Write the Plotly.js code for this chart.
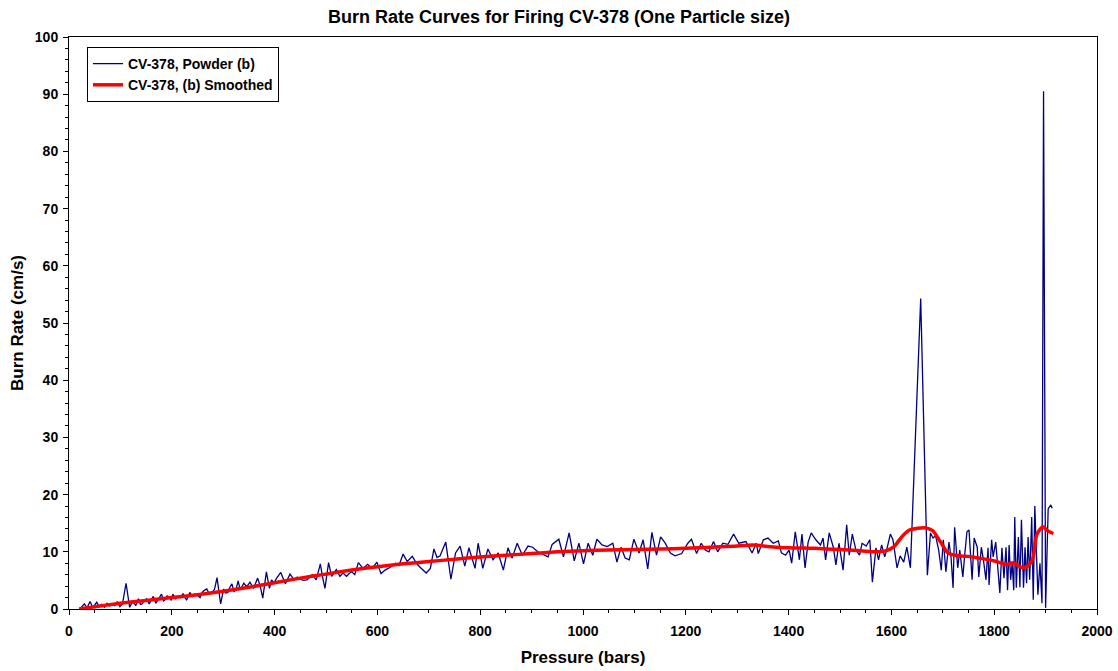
<!DOCTYPE html>
<html>
<head>
<meta charset="utf-8">
<script src="https://cdn.plot.ly/plotly-3.0.1.min.js"></script>
<style>html,body{margin:0;padding:0;background:#fff;}#chart{width:1118px;height:671px;}</style>
</head>
<body>
<div id="chart"></div>
<script>
// Raw powder burn-rate data (pressure in bars, burn rate in cm/s)
const pressurePowder = [
  20,25,30,35,41,46,50,54,58,64,
  69,74,79,84,89,94,99,104,111,118,
  122,125,130,135,139,142,147,151,156,160,
  164,169,174,180,184,187,191,195,199,202,
  207,212,217,222,226,229,235,240,245,250,
  255,259,264,268,273,278,283,288,295,301,
  305,309,313,317,321,325,329,333,336,340,
  346,352,359,367,372,377,384,390,394,399,
  404,412,421,430,438,444,450,456,463,468,
  473,481,489,493,498,505,511,520,527,533,
  540,545,550,556,563,572,581,590,599,607,
  615,625,635,642,650,658,668,676,
  683,695,703,710,716,722,733,743,752,761,
  770,778,790,796,805,815,825,835,845,854,
  862,872,882,893,902,912,922,932,940,953,
  962,973,983,992,1001,1010,1019,1027,1037,1047,
  1058,1066,1074,1082,1090,1099,1109,1117,1126,1134,
  1143,1151,1160,1170,1179,1192,1204,1211,1221,1230,
  1238,1245,1254,1262,1272,1282,1293,1303,1317,1329,
  1337,1341,1351,1360,1370,1380,1386,1394,1401,1406,
  1413,1421,1426,1432,1438,1444,1453,1462,1467,1472,
  1479,1487,1492,1498,1506,1513,1518,1524,1531,1538,
  1543,1551,1558,1563,1570,1575,1581,1587,1592,1598,
  1603,1611,1617,1624,1630,1637,1657,1670,1676,1681,
  1686,1692,1697,1701,1706,1712,1716,1720,1723,1729,
  1733,1739,1743,1747,1751,1757,1761,1767,1770,1775,
  1779,1784,1788,1790,1795,1798,1803,1808,1811,1815,
  1819,1823,1826,1829,1832,1835,1838,1840,1843,1847,
  1850,1853,1857,1860,1863,1866,1869,1873,1876,1879,
  1885,1889,1893,1896,1900,1905,1910,1913
];
const ratePowder = [
  0.1,0.4,0.9,0.2,1.3,0.3,0.7,1.2,0.5,0.8,
  0.3,1.0,0.5,0.9,0.6,1.3,0.4,0.9,4.5,0.3,
  1.0,1.2,0.6,1.8,0.8,0.9,1.5,1.8,0.9,1.6,
  2.2,1.0,1.8,2.6,1.4,1.6,2.3,2.1,1.5,2.6,
  1.8,2.2,2.0,2.7,1.9,1.6,2.9,2.2,2.6,2.4,
  2.0,2.9,3.3,3.5,2.6,2.9,3.4,5.5,0.9,3.5,
  2.8,2.9,3.8,4.4,3.0,3.4,4.9,3.4,3.8,4.5,
  3.9,4.7,3.6,5.4,4.0,1.9,6.5,3.6,5.1,4.6,
  5.4,6.4,4.4,6.1,5.1,5.6,5.2,5.0,5.1,5.6,
  6.0,5.1,7.9,5.7,3.6,8.1,5.7,6.9,5.7,6.3,
  5.7,6.2,6.5,6.0,8.1,7.1,7.8,7.1,8.2,6.2,
  6.8,7.3,8.0,7.6,9.6,8.3,9.2,8.0,
  7.3,6.3,7.1,10.5,9.0,9.3,11.7,5.2,9.8,11.0,
  7.5,10.7,7.1,11.5,7.1,10.5,8.6,9.8,6.8,10.7,
  8.9,11.5,9.4,11.0,10.8,10.0,9.6,9.1,11.3,12.2,
  9.1,13.3,8.4,11.5,7.9,11.5,9.4,12.2,11.2,10.9,
  11.5,8.2,10.8,8.9,8.6,12.2,9.8,12.1,7.0,13.4,
  9.4,12.6,11.5,9.8,9.3,9.7,11.5,12.2,9.7,11.5,
  10.3,10.0,11.8,10.0,11.5,11.3,13.1,11.5,11.8,9.8,
  11.5,9.7,12.1,12.4,11.5,11.9,9.8,9.4,10.3,8.0,
  13.5,8.6,13.1,7.2,11.7,13.3,12.1,11.2,12.4,8.6,
  13.3,10.8,7.7,11.5,6.8,14.7,9.4,13.1,10.3,9.4,
  11.5,11.0,12.1,4.7,10.7,8.6,11.2,9.1,10.8,13.1,
  12.1,7.2,9.3,8.2,10.8,7.2,54.3,5.9,13.3,12.4,
  12.8,10.3,6.8,12.1,6.5,11.7,9.1,3.7,14.3,7.2,
  10.3,5.6,9.8,13.5,13.8,5.1,12.4,10.8,5.6,10.8,
  8.6,5.1,10.7,4.2,12.1,9.1,11.7,6.8,2.8,10.7,
  5.4,10.8,3.3,11.2,5.1,8.0,3.3,16.1,3.7,12.6,
  3.8,15.6,3.7,10.8,4.5,12.6,5.1,16.1,1.6,18.0,
  2.5,8.0,1.0,90.5,0.2,17.5,18.2,17.6
];

// Smoothed curve
const pressureSmooth = [20,50,100,150,200,250,300,350,400,450,500,550,600,650,700,750,800,850,900,950,1000,1050,1100,1150,1200,1250,1300,1330,1364,1400,1450,1500,1540,1569,1590,1605,1620,1635,1650,1665,1680,1695,1710,1730,1750,1770,1800,1825,1837,1853,1865,1875,1883,1895,1902,1915];
const rateSmooth     = [0.0,0.4,1.0,1.5,2.0,2.5,3.1,3.8,4.6,5.4,6.1,6.8,7.4,7.9,8.3,8.7,9.1,9.4,9.7,10.0,10.2,10.3,10.4,10.5,10.6,10.8,11.0,11.2,10.9,10.7,10.6,10.4,10.2,10.0,10.2,10.9,12.6,13.8,14.1,14.2,13.7,11.8,9.8,9.3,9.2,8.9,8.4,7.8,8.1,7.3,7.5,8.8,13.0,14.4,13.8,13.2];

const xTickVals = [0,200,400,600,800,1000,1200,1400,1600,1800,2000];
const yTickVals = [0,10,20,30,40,50,60,70,80,90,100];

const FONT = 'Liberation Sans, Arial, sans-serif';

const traces = [
  {x: pressurePowder, y: ratePowder, type: 'scatter', mode: 'lines',
   name: 'CV-378, Powder (b)', line: {color: '#000080', width: 1.3}},
  {x: pressureSmooth, y: rateSmooth, type: 'scatter', mode: 'lines',
   name: 'CV-378, (b) Smoothed', line: {color: '#FF0000', width: 3.5, shape: 'spline', smoothing: 0.8}}
];

const axisCommon = {
  showgrid: false, zeroline: false, showline: true, linecolor: '#000', linewidth: 1,
  mirror: true, ticks: 'outside', ticklen: 5, tickwidth: 1, tickcolor: '#000',
  tickfont: {family: FONT, size: 14, color: '#000', weight: 'bold'}
};

const layout = {
  width: 1118, height: 671,
  margin: {l: 69, r: 21, t: 37, b: 62},
  paper_bgcolor: '#fff', plot_bgcolor: '#fff',
  title: {text: 'Burn Rate Curves for Firing CV-378 (One Particle size)',
          font: {family: FONT, size: 18, color: '#000', weight: 'bold'},
          x: 0.5, xanchor: 'center', y: 0.975, yanchor: 'middle'},
  xaxis: Object.assign({}, axisCommon, {
    range: [0, 2000], tickvals: xTickVals, ticktext: xTickVals.map(String),
    ticklabelstandoff: 4,
    minor: {dtick: 50, ticks: 'outside', ticklen: 3, tickcolor: '#000'},
    title: {text: 'Pressure (bars)', font: {family: FONT, size: 17, color: '#000', weight: 'bold'}, standoff: 13}
  }),
  yaxis: Object.assign({}, axisCommon, {
    range: [0, 100], tickvals: yTickVals, ticktext: yTickVals.map(String),
    ticklabelstandoff: 2,
    minor: {dtick: 2, ticks: 'outside', ticklen: 3, tickcolor: '#000'},
    title: {text: 'Burn Rate (cm/s)', font: {family: FONT, size: 17, color: '#000', weight: 'bold'}, standoff: 6}
  }),
  showlegend: true,
  legend: {x: 0.0175, y: 0.9825, xanchor: 'left', yanchor: 'top',
           bordercolor: '#000', borderwidth: 1, bgcolor: '#fff',
           font: {family: FONT, size: 14, color: '#000', weight: 'bold'},
           tracegroupgap: 0, itemwidth: 30}
};

Plotly.newPlot('chart', traces, layout, {displayModeBar: false, staticPlot: true});
</script>
</body>
</html>
